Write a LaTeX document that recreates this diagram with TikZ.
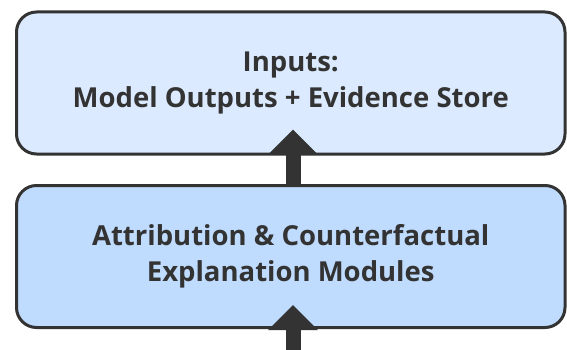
\documentclass[tikz,border=0pt]{standalone}
\usepackage{fontspec}
\setmainfont{Open Sans}
\usetikzlibrary{arrows.meta}
\definecolor{edge}{HTML}{333333}
\definecolor{inputfill}{HTML}{DBEAFE}
\definecolor{modfill}{HTML}{BFDBFE}
\tikzset{
  stage/.style={draw=edge, line width=3pt, rounded corners=20pt,
    minimum width=548.5pt, minimum height=142pt, inner sep=0pt,
    align=center, text=edge,
    font=\fontsize{27.5pt}{36pt}\selectfont\bfseries},
  flow/.style={draw=edge, line width=15pt,
    -{Triangle[width=48pt, length=25pt]}}
}
\begin{document}
\begin{tikzpicture}[x=1pt, y=-1pt]
  \useasboundingbox (0,0) rectangle (567,350);
  \node[stage, fill=inputfill] (inputs) at (290.75,83)
    {Inputs:\\Model Outputs + Evidence Store};
  \node[stage, fill=modfill] (modules) at (290.75,256.5)
    {Attribution \& Counterfactual\\Explanation Modules};
  \coordinate (feed) at (293,352);
  \draw[flow] ([xshift=2.25pt]modules.north) -- ([xshift=2.25pt,yshift=26pt]inputs.south);
  \draw[flow] (feed) -- ([xshift=2.25pt,yshift=24pt]modules.south);
\end{tikzpicture}
\end{document}
